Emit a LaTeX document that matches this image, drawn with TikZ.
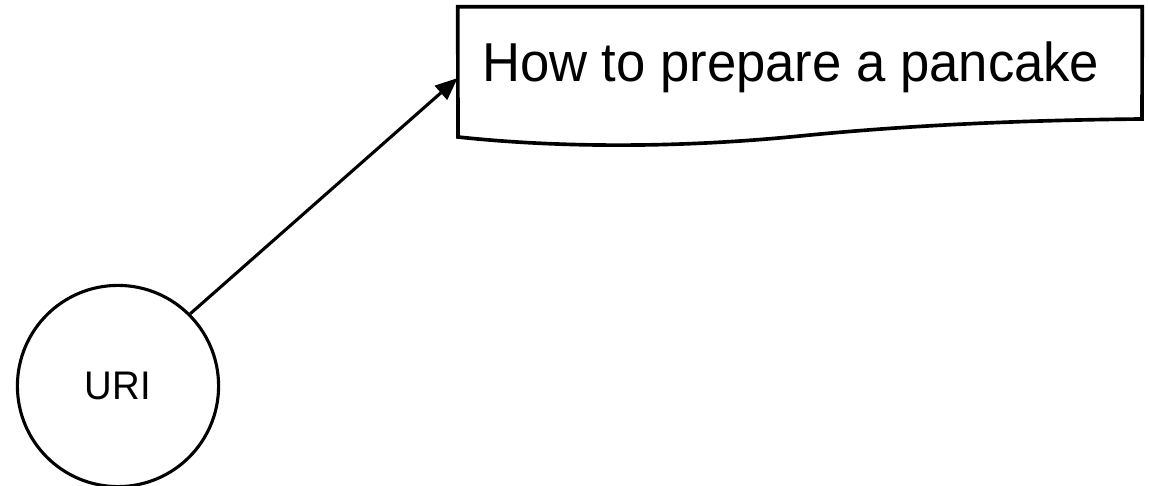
\documentclass[tikz,border=0pt]{standalone}
\usepackage{fontspec}
\setmainfont{Liberation Sans}
\newfontfamily\narrowsans[FakeStretch=0.96]{Liberation Sans}
\usetikzlibrary{arrows.meta}

\begin{document}
\begin{tikzpicture}[
  resource/.style={draw, circle, line width=2.2pt, minimum size=5.03cm, inner sep=0pt, font=\narrowsans\fontsize{28.4}{33}\selectfont},
  page/.style={rectangle, inner xsep=0.6cm, inner ysep=0pt, text width=15.9cm, align=flush left,
    text height=1.875cm, text depth=1.675cm, font=\narrowsans\fontsize{39}{46}\selectfont},
  link/.style={line width=2.2pt, -{Triangle[length=16pt, width=13pt]}},
]
\useasboundingbox (0,0) rectangle (28.725,12.125);

% --- The resource: a circle holding its identifier ---
\node[resource] (uri) at (2.95, 2.475) {URI};

% --- The document it names, with a wavy lower edge ---
\node[page] (doc) at (20.0, 10.175) {How to prepare a pancake};
\draw[line width=2.6pt]
  (doc.north west) -- (doc.north east) -- (28.55, 9.15)
  .. controls (26.0, 9.125) and (23.0, 9.025) .. (20.0, 8.725)
  .. controls (17.0, 8.425) and (14.0, 8.425) .. (11.45, 8.7) -- cycle;

% Link from the URI to the document.
\draw[link] (uri.45) -- (doc.west);

\end{tikzpicture}
\end{document}
